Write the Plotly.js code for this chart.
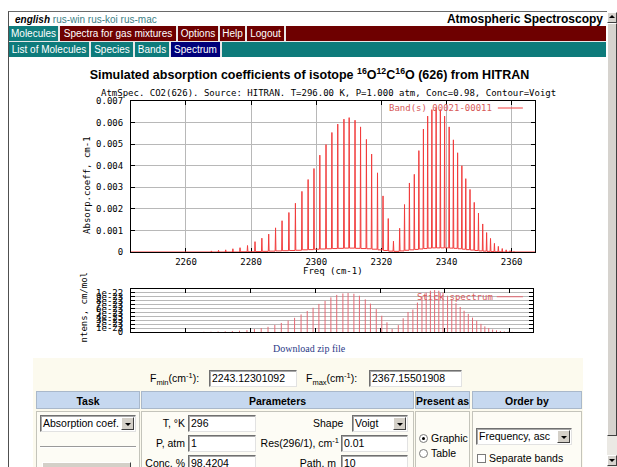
<!DOCTYPE html>
<html><head><meta charset="utf-8">
<script src="https://cdn.plot.ly/plotly-3.0.1.min.js"></script>
<style>
html,body{margin:0;padding:0;}
body{width:617px;height:467px;overflow:hidden;position:relative;background:#fff;font-family:'Liberation Sans',Arial,sans-serif;font-size:11px;color:#000;}
.a{position:absolute;white-space:nowrap;}
.tab{position:absolute;height:15px;line-height:15px;color:#fff;font-size:10px;text-align:center;white-space:nowrap;}
.inp{position:absolute;background:#fff;box-sizing:border-box;border-top:1px solid #707070;border-left:1px solid #707070;border-right:1px solid #e2e2e2;border-bottom:1px solid #e2e2e2;box-shadow:inset 1px 1px 0 #a8a8a8;font-size:10.5px;line-height:15px;padding-left:2px;white-space:nowrap;overflow:hidden;}
.arr{position:absolute;right:1px;top:1px;width:13px;bottom:1px;background:#d4d0c8;box-sizing:border-box;border-top:1px solid #fff;border-left:1px solid #fff;border-right:1px solid #404040;border-bottom:1px solid #404040;}
.arr:after{content:'';position:absolute;left:3px;top:5px;border-left:3px solid transparent;border-right:3px solid transparent;border-top:3px solid #000;}
.hd{position:absolute;top:391px;height:18px;line-height:18px;background:#c6d8ef;border:1px solid #a9b8ca;box-sizing:border-box;font-weight:bold;text-align:center;font-size:10.5px;white-space:nowrap;}
.bd{position:absolute;top:411px;height:70px;background:#fdfcf5;border:1px solid #c4c4bb;box-sizing:border-box;}
.lbl{position:absolute;white-space:nowrap;font-size:10.5px;line-height:13px;}
.rad{position:absolute;width:9px;height:9px;border-radius:50%;background:#fff;border:1px solid #7a7a7a;box-sizing:border-box;}
sup,sub{font-size:7.5px;line-height:0;}
</style></head><body>

<!-- window frame -->
<div class="a" style="left:8px;top:11px;width:598px;height:460px;border-top:1px solid #6a6a6a;border-left:1px solid #505050;"></div>

<!-- top line -->
<div class="a" style="left:15px;top:14px;font-size:10px;line-height:12px;"><b><i>english</i></b> <span style="color:#3d7f86">rus-win</span> <span style="color:#3d7f86">rus-koi</span> <span style="color:#3d7f86">rus-mac</span></div>
<div class="a" style="right:14px;top:12px;font-size:12px;line-height:14px;font-weight:bold;">Atmospheric Spectroscopy</div>

<!-- maroon menu -->
<div class="a" style="left:9px;top:26px;width:597px;height:15px;background:#6e0000;"></div>
<div class="tab" style="left:9px;top:26px;width:49px;background:#0f7d7d;">Molecules</div>
<div class="tab" style="left:60px;top:26px;width:116px;background:#6e0000;">Spectra for gas mixtures</div>
<div class="tab" style="left:178px;top:26px;width:40px;background:#6e0000;">Options</div>
<div class="tab" style="left:220px;top:26px;width:25px;background:#6e0000;">Help</div>
<div class="tab" style="left:247px;top:26px;width:37px;background:#6e0000;">Logout</div>
<div class="a" style="left:58px;top:26px;width:2px;height:15px;background:#e8e8e8;"></div>
<div class="a" style="left:176px;top:26px;width:2px;height:15px;background:#e8e8e8;"></div>
<div class="a" style="left:218px;top:26px;width:2px;height:15px;background:#e8e8e8;"></div>
<div class="a" style="left:245px;top:26px;width:2px;height:15px;background:#e8e8e8;"></div>
<div class="a" style="left:284px;top:26px;width:2px;height:15px;background:#e8e8e8;"></div>
<div class="a" style="left:9px;top:41px;width:597px;height:1px;background:#e8e8e8;"></div>

<!-- teal menu -->
<div class="a" style="left:9px;top:42px;width:597px;height:15px;background:#0e7b7b;"></div>
<div class="tab" style="left:9px;top:42px;width:80px;background:#0e7b7b;">List of Molecules</div>
<div class="tab" style="left:91px;top:42px;width:42px;background:#0e7b7b;">Species</div>
<div class="tab" style="left:135px;top:42px;width:34px;background:#0e7b7b;">Bands</div>
<div class="tab" style="left:171px;top:42px;width:49px;background:#00007a;">Spectrum</div>
<div class="a" style="left:89px;top:42px;width:2px;height:15px;background:#e8e8e8;"></div>
<div class="a" style="left:133px;top:42px;width:2px;height:15px;background:#e8e8e8;"></div>
<div class="a" style="left:169px;top:42px;width:2px;height:15px;background:#e8e8e8;"></div>
<div class="a" style="left:220px;top:42px;width:2px;height:15px;background:#e8e8e8;"></div>

<!-- scrollbar -->
<div class="a" style="left:607px;top:12px;width:10px;height:455px;background:#ebe9e4;"></div>
<div class="a" style="left:607px;top:23px;width:10px;height:413px;background:#d6d3ce;box-sizing:border-box;border-top:1px solid #fff;border-left:1px solid #fff;border-bottom:1px solid #404040;border-right:1px solid #404040;"></div>
<div class="a" style="left:607px;top:12px;width:10px;height:11px;background:#d6d3ce;box-sizing:border-box;border-top:1px solid #fff;border-left:1px solid #fff;border-bottom:1px solid #404040;border-right:1px solid #404040;"></div>
<div class="a" style="left:609px;top:15px;border-left:3px solid transparent;border-right:3px solid transparent;border-bottom:3px solid #000;"></div>
<div class="a" style="left:607px;top:455px;width:10px;height:11px;background:#d6d3ce;box-sizing:border-box;border-top:1px solid #fff;border-left:1px solid #fff;border-bottom:1px solid #404040;border-right:1px solid #404040;"></div>
<div class="a" style="left:609px;top:459px;border-left:3px solid transparent;border-right:3px solid transparent;border-top:3px solid #000;"></div>

<!-- chart -->
<div id="plot" class="a" style="left:0px;top:60px;width:617px;height:290px;"></div>

<div class="a" style="left:273px;top:343px;font-family:'Liberation Serif','Times New Roman',serif;font-size:10px;line-height:12px;color:#2b3a87;">Download zip file</div>

<!-- form -->
<div class="a" style="left:33px;top:358px;width:550px;height:110px;background:#fcfaee;"></div>
<div class="lbl" style="left:150px;top:372px;">F<sub>min</sub>(cm<sup>-1</sup>):</div>
<div class="inp" style="left:209px;top:370px;width:88px;height:17px;">2243.12301092</div>
<div class="lbl" style="left:306px;top:372px;">F<sub>max</sub>(cm<sup>-1</sup>):</div>
<div class="inp" style="left:369px;top:370px;width:93px;height:17px;">2367.15501908</div>

<div class="hd" style="left:36px;width:104px;">Task</div>
<div class="hd" style="left:141px;width:273px;">Parameters</div>
<div class="hd" style="left:415px;width:55px;">Present as</div>
<div class="hd" style="left:472px;width:110px;">Order by</div>
<div class="bd" style="left:36px;width:104px;"></div>
<div class="bd" style="left:141px;width:273px;"></div>
<div class="bd" style="left:415px;width:55px;"></div>
<div class="bd" style="left:472px;width:110px;"></div>

<div class="inp" style="left:40px;top:415px;width:96px;height:17px;">Absorption coef.<div class="arr"></div></div>
<div class="a" style="left:40px;top:446px;width:96px;height:0;border-top:1px solid #9a9a9a;border-bottom:1px solid #fff;"></div>
<div class="a" style="left:42px;top:462px;width:89px;height:12px;background:#d4d0c8;box-sizing:border-box;border-top:1px solid #fff;border-left:1px solid #fff;border-right:1px solid #404040;"></div>

<div class="lbl" style="right:432px;top:417px;">T, °K</div>
<div class="inp" style="left:188px;top:415px;width:68px;height:17px;">296</div>
<div class="lbl" style="left:313px;top:417px;">Shape</div>
<div class="inp" style="left:352px;top:415px;width:56px;height:17px;">Voigt<div class="arr"></div></div>
<div class="lbl" style="right:432px;top:437px;">P, atm</div>
<div class="inp" style="left:188px;top:435px;width:68px;height:17px;">1</div>
<div class="lbl" style="right:278px;top:437px;">Res(296/1), cm<sup>-1</sup></div>
<div class="inp" style="left:341px;top:435px;width:67px;height:17px;">0.01</div>
<div class="lbl" style="right:432px;top:457px;">Conc, %</div>
<div class="inp" style="left:188px;top:455px;width:68px;height:17px;">98.4204</div>
<div class="lbl" style="right:281px;top:457px;">Path, m</div>
<div class="inp" style="left:341px;top:455px;width:67px;height:17px;">10</div>

<div class="rad" style="left:419px;top:434px;"><div class="a" style="left:2px;top:2px;width:3px;height:3px;border-radius:50%;background:#000;"></div></div>
<div class="lbl" style="left:431px;top:432px;">Graphic</div>
<div class="rad" style="left:419px;top:449px;"></div>
<div class="lbl" style="left:431px;top:447px;">Table</div>

<div class="inp" style="left:476px;top:428px;width:96px;height:17px;">Frequency, asc<div class="arr"></div></div>
<div class="a" style="left:477px;top:454px;width:9px;height:9px;background:#fff;border:1px solid #7a7a7a;box-sizing:border-box;"></div>
<div class="lbl" style="left:489px;top:452px;">Separate bands</div>

<script>
// ---- data ----
const fMin = 2243.12301092;
const fMax = 2367.15501908;
// line centres (cm-1)
const lineFreq = [2263.4, 2265.6, 2267.8, 2270.0, 2272.2, 2274.4, 2276.6, 2278.9, 2281.2, 2283.3,
  2285.4, 2287.5, 2289.5, 2291.6, 2293.6, 2295.6, 2297.5, 2299.3, 2301.1, 2303.0,
  2304.8, 2306.6, 2308.5, 2310.1, 2311.9, 2313.6, 2315.4, 2317.0, 2318.8, 2320.5,
  2322.1, 2323.7,
  2325.6, 2327.1, 2328.6, 2330.1, 2331.5, 2332.9, 2334.2, 2335.5, 2336.8, 2338.1,
  2339.4, 2340.8, 2342.1, 2343.4, 2344.7, 2345.9, 2347.2, 2348.5, 2349.8, 2351.1,
  2352.3, 2353.5, 2354.7, 2355.9, 2357.1, 2358.3, 2359.5, 2360.7];
// peak absorption coefficient (cm-1)
const peakAbs = [0.00002, 0.00003, 0.00005, 0.00008, 0.00010, 0.00015, 0.00020, 0.00030, 0.00048, 0.00064,
  0.00083, 0.00112, 0.00145, 0.00183, 0.00226, 0.00281, 0.00336, 0.00387, 0.00449, 0.00498,
  0.00554, 0.00593, 0.00616, 0.00623, 0.00611, 0.00580, 0.00522, 0.00454, 0.00367, 0.00260,
  0.00155, 0.00050,
  0.00110, 0.00220, 0.00320, 0.00360, 0.00470, 0.00570, 0.00630, 0.00660, 0.00670, 0.00660,
  0.00630, 0.00580, 0.00520, 0.00460, 0.00400, 0.00340, 0.00290, 0.00230, 0.00180, 0.00130,
  0.00090, 0.00063, 0.00040, 0.00026, 0.00016, 0.00010, 0.00006, 0.00003];
// absorption level of the trough following each line (cm-1)
const gapAbs = [0, 0, 0, 0, 0, 0, 0.00001, 0.00001, 0.00002, 0.00003,
  0.00004, 0.00005, 0.00006, 0.00007, 0.00008, 0.00010, 0.00011, 0.00013, 0.00014, 0.00015,
  0.00016, 0.00017, 0.00018, 0.00018, 0.00017, 0.00016, 0.00015, 0.00013, 0.00010, 0.00007,
  0.00004, 0.00003,
  0.00005, 0.00008, 0.00010, 0.00012, 0.00014, 0.00016, 0.00018, 0.00019, 0.00019, 0.00019,
  0.00019, 0.00018, 0.00017, 0.00015, 0.00013, 0.00011, 0.00009, 0.00007, 0.00005, 0.00004,
  0.00003, 0.00002, 0.00001, 0.00001, 0, 0, 0, 0];
// stick line intensities (units of 1e-23 cm/molecule)
const stickInt = [0.03, 0.05, 0.08, 0.13, 0.16, 0.24, 0.32, 0.48, 0.77, 1.02,
  1.33, 1.79, 2.32, 2.93, 3.62, 4.50, 5.38, 6.19, 7.18, 7.97,
  8.86, 9.49, 9.86, 9.97, 9.78, 9.28, 8.35, 7.26, 5.87, 4.16,
  2.48, 0.80,
  1.76, 3.52, 5.12, 5.76, 7.52, 9.12, 10.08, 10.56, 10.72, 10.56,
  10.08, 9.28, 8.32, 7.36, 6.40, 5.44, 4.64, 3.68, 2.88, 2.08,
  1.44, 1.01, 0.64, 0.42, 0.26, 0.16, 0.10, 0.05];
const freqTickVals = [2260, 2280, 2300, 2320, 2340, 2360];
const freqTickText = ['2260', '2280', '2300', '2320', '2340', '2360'];
const absTickVals = [0, 0.001, 0.002, 0.003, 0.004, 0.005, 0.006, 0.007];
const absTickText = ['0', '0.001', '0.002', '0.003', '0.004', '0.005', '0.006', '0.007'];
const stickTickVals = [0, 1, 2, 3, 4, 5, 6, 7, 8, 9, 10];
const stickTickText = ['0', '1e-23', '2e-23', '3e-23', '4e-23', '5e-23', '6e-23', '7e-23', '8e-23', '9e-23', '1e-22'];

// ---- drawing ----
const FOOT = 0.12; // half-width of a drawn line foot, cm-1 (style)
const absX = [fMin], absY = [0];
lineFreq.forEach((f, i) => {
  absX.push(f - FOOT, f, f + FOOT);
  absY.push(i ? gapAbs[i - 1] : 0, peakAbs[i], gapAbs[i]);
});
absX.push(fMax); absY.push(0);

const stX = [], stY = [];
lineFreq.forEach((f, i) => { stX.push(f, f, null); stY.push(0, stickInt[i], null); });

const mono = 'DejaVu Sans Mono, monospace';
const gfont = {family: mono, size: 9, color: '#000'};
const red = 'rgb(242,60,60)';
const stickRed = 'rgb(228,105,115)';

const data = [
  {type: 'scatter', mode: 'lines', x: absX, y: absY, xaxis: 'x', yaxis: 'y',
   line: {color: red, width: 1}, cliponaxis: false, hoverinfo: 'skip', showlegend: false},
  {type: 'scatter', mode: 'lines', x: stX, y: stY, xaxis: 'x2', yaxis: 'y2',
   line: {color: stickRed, width: 1}, hoverinfo: 'skip', showlegend: false}
];

const axCommon = {showline: true, linecolor: '#000', linewidth: 1, mirror: 'ticks', ticks: 'inside',
  ticklen: 4, tickcolor: '#000', zeroline: false, tickfont: gfont, gridcolor: '#b8b8b8', gridwidth: 1,
  layer: 'below traces'};

const layout = {
  width: 617, height: 290,
  margin: {l: 131, r: 82, t: 41, b: 18, pad: 0},
  paper_bgcolor: 'rgba(0,0,0,0)', plot_bgcolor: '#fff',
  showlegend: false,
  title: {text: 'Simulated absorption coefficients of isotope <sup>16</sup>O<sup>12</sup>C<sup>16</sup>O (626) from HITRAN',
    font: {family: 'Liberation Sans, Arial, sans-serif', size: 12.5, color: '#000', weight: 'bold'},
    xref: 'container', x: 0.5016, xanchor: 'center', yref: 'container', y: 0.948, yanchor: 'middle'},
  xaxis: Object.assign({}, axCommon, {anchor: 'y', domain: [0, 1], range: [fMin, fMax],
    tickmode: 'array', tickvals: freqTickVals, ticktext: freqTickText, showgrid: true, ticklabelstandoff: 1}),
  yaxis: Object.assign({}, axCommon, {anchor: 'x', domain: [0.34632, 1], range: [0, 0.007],
    tickmode: 'array', tickvals: absTickVals, ticktext: absTickText, showgrid: true, ticklabelstandoff: 5}),
  xaxis2: Object.assign({}, axCommon, {anchor: 'y2', domain: [0, 0.995], range: [fMin, fMax],
    tickmode: 'array', tickvals: freqTickVals, showticklabels: false, showgrid: false}),
  yaxis2: Object.assign({}, axCommon, {anchor: 'x2', domain: [0, 0.18615], range: [0, 11],
    tickmode: 'array', tickvals: stickTickVals, ticktext: stickTickText, showgrid: true, ticklabelstandoff: 5}),
  shapes: [
    {type: 'line', xref: 'x domain', yref: 'y domain', x0: 0.908, x1: 0.970, y0: 0.9536, y1: 0.9536,
     line: {color: red, width: 1}},
    {type: 'line', xref: 'x2 domain', yref: 'y2 domain', x0: 0.91, x1: 0.975, y0: 0.82, y1: 0.82,
     line: {color: stickRed, width: 1}}
  ],
  annotations: [
    {text: 'AtmSpec. CO2(626). Source: HITRAN. T=296.00 K, P=1.000 atm, Conc=0.98, Contour=Voigt',
     xref: 'paper', yref: 'paper', x: 0.490, y: 1.0346, xanchor: 'center', yanchor: 'middle', showarrow: false, font: gfont},
    {text: 'Absorp.coeff, cm-1', xref: 'paper', yref: 'y domain', x: -0.1089, y: 0.444, textangle: -90,
     xanchor: 'center', yanchor: 'middle', showarrow: false, font: gfont},
    {text: 'Freq (cm-1)', xref: 'x domain', yref: 'paper', x: 0.5, y: 0.262,
     xanchor: 'center', yanchor: 'middle', showarrow: false, font: gfont},
    {text: 'ntens, cm/mol', xref: 'paper', yref: 'y2 domain', x: -0.114, y: 0.57, textangle: -90,
     xanchor: 'center', yanchor: 'middle', showarrow: false, font: gfont},
    {text: 'Band(s) 00021-00011', xref: 'x domain', yref: 'y domain', x: 0.767, y: 0.9536,
     xanchor: 'center', yanchor: 'middle', showarrow: false, font: {family: mono, size: 9, color: 'rgb(215,90,90)'}},
    {text: 'Stick spectrum', xref: 'x2 domain', yref: 'y2 domain', x: 0.807, y: 0.82,
     xanchor: 'center', yanchor: 'middle', showarrow: false, font: {family: mono, size: 9, color: 'rgb(215,90,90)'}}
  ]
};

Plotly.newPlot('plot', data, layout, {staticPlot: true, displayModeBar: false});
</script>
</body></html>
